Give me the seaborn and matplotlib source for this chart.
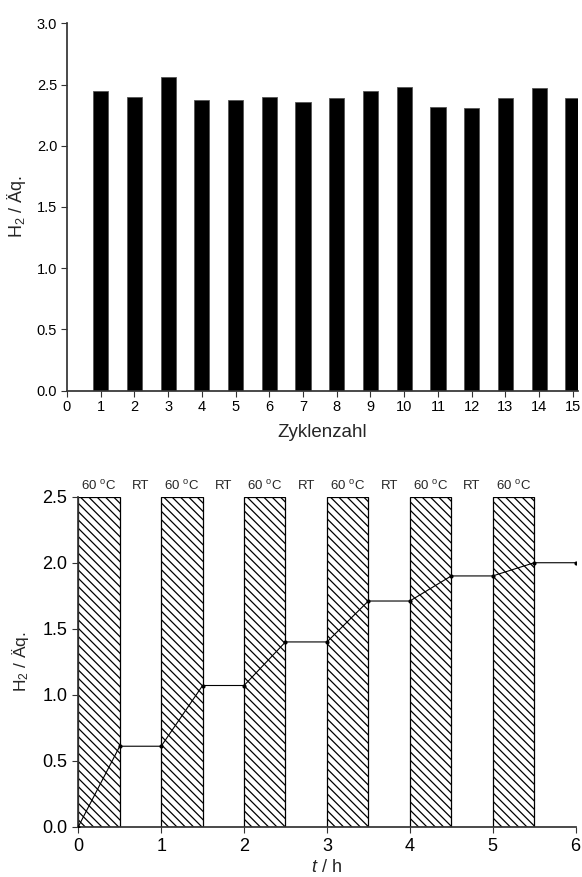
import matplotlib
matplotlib.use("Agg")
import matplotlib.pyplot as plt
import seaborn as sns
import pandas as pd

# --- data ---
cycles = [1, 2, 3, 4, 5, 6, 7, 8, 9, 10, 11, 12, 13, 14, 15]
h2_per_cycle = [2.45, 2.40, 2.56, 2.37, 2.37, 2.40, 2.36, 2.39, 2.45, 2.48,
                2.32, 2.31, 2.39, 2.47, 2.39]

time_h = [0, 0.5, 1, 1.5, 2, 2.5, 3, 3.5, 4, 4.5, 5, 5.5, 6]
h2_time = [0.0, 0.61, 0.61, 1.07, 1.07, 1.40, 1.40, 1.71, 1.71, 1.90, 1.90, 2.00, 2.00]

heat_start = [0, 1, 2, 3, 4, 5]       # start of each 60 °C period (h)
heat_len = 0.5                         # duration of heating (h)
heat_height = 2.5
rt_center = [0.75, 1.75, 2.75, 3.75, 4.75]

sns.set_theme(style="ticks")
plt.rcParams["font.family"] = ["Liberation Sans", "DejaVu Sans"]
plt.rcParams["mathtext.fontset"] = "custom"
plt.rcParams["mathtext.rm"] = "Liberation Sans"
plt.rcParams["mathtext.it"] = "Liberation Sans:italic"
plt.rcParams["hatch.linewidth"] = 0.9
plt.rcParams["axes.edgecolor"] = "#333333"
plt.rcParams["xtick.color"] = "#333333"
plt.rcParams["ytick.color"] = "#333333"
plt.rcParams["xtick.labelcolor"] = "black"
plt.rcParams["ytick.labelcolor"] = "black"

fig = plt.figure(figsize=(5.82, 8.77), dpi=100)
ax1 = fig.add_axes([0.115, 0.5547, 0.878, 0.4187])
ax2 = fig.add_axes([0.1345, 0.0573, 0.8545, 0.3763])

# top: H2 per cycle
df1 = pd.DataFrame({"cycle": cycles, "h2": h2_per_cycle})
sns.barplot(data=df1, x="cycle", y="h2", native_scale=True, width=0.45,
            color="black", edgecolor="#555555", linewidth=0.6, ax=ax1)
ax1.set_xlim(0, 15.15)
ax1.set_ylim(0, 3.0)
ax1.set_xticks(range(0, 16))
ax1.set_xticklabels([str(i) for i in range(0, 16)])
ax1.set_yticks([0, 0.5, 1.0, 1.5, 2.0, 2.5, 3.0])
ax1.set_yticklabels(["0.0", "0.5", "1.0", "1.5", "2.0", "2.5", "3.0"])
ax1.tick_params(labelsize=10.5, length=4, width=0.8, pad=3)
ax1.set_xlabel("Zyklenzahl", fontsize=13.5, labelpad=7)
ax1.set_ylabel("H$_2$ / Äq.", fontsize=13, labelpad=6)
sns.despine(ax=ax1)

# bottom: H2 over time with heating periods
for s in heat_start:
    ax2.bar(s, heat_height, width=heat_len, align="edge", facecolor="white",
            edgecolor="black", hatch="\\\\\\\\", linewidth=0.9, zorder=1)
    ax2.text(s + heat_len / 2, 2.555, "60 $^{\\mathrm{o}}$C", ha="center",
             va="baseline", fontsize=9.5, clip_on=False)
for c in rt_center:
    ax2.text(c, 2.555, "RT", ha="center", va="baseline", fontsize=9.5,
             clip_on=False)

df2 = pd.DataFrame({"t": time_h, "h2": h2_time})
sns.lineplot(data=df2, x="t", y="h2", color="black", linewidth=0.8,
             marker="o", markersize=3, markeredgewidth=0, ax=ax2, zorder=3)
ax2.set_xlim(0, 6)
ax2.set_ylim(0, 2.5)
ax2.set_xticks(range(0, 7))
ax2.set_yticks([0, 0.5, 1.0, 1.5, 2.0, 2.5])
ax2.set_yticklabels(["0.0", "0.5", "1.0", "1.5", "2.0", "2.5"])
ax2.tick_params(labelsize=13, length=4, width=0.8, pad=4)
ax2.set_xlabel("$t$ / h", fontsize=13, labelpad=3)
ax2.set_ylabel("H$_2$ / Äq.", fontsize=12.5, labelpad=8)
sns.despine(ax=ax2)

fig.savefig("out.png", dpi=100)
